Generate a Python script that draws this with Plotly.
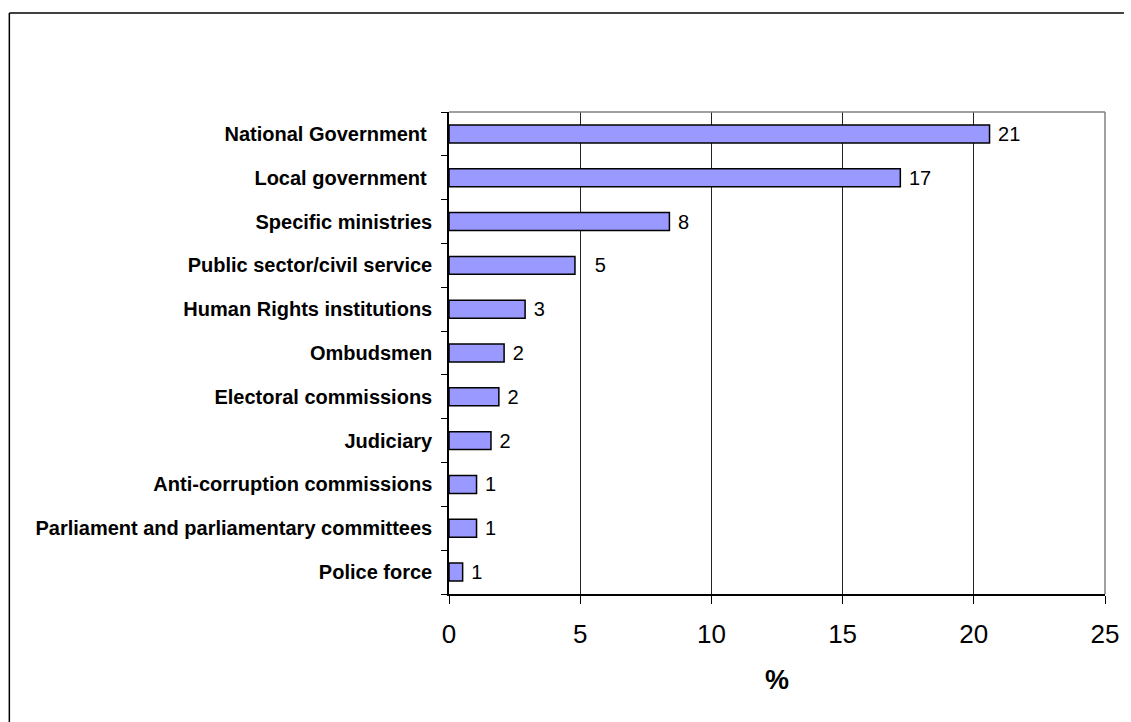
import plotly.graph_objects as go

# Institutions (top to bottom as displayed) and their shares in percent
categories = [
    "National Government\u00a0",
    "Local government\u00a0",
    "Specific ministries",
    "Public sector/civil service",
    "Human Rights institutions",
    "Ombudsmen",
    "Electoral commissions",
    "Judiciary",
    "Anti-corruption commissions",
    "Parliament and parliamentary committees",
    "Police force",
]
values = [20.6, 17.2, 8.4, 4.8, 2.9, 2.1, 1.9, 1.6, 1.05, 1.05, 0.52]
x_ticks = [0, 5, 10, 15, 20, 25]

# Value labels: rounded percentages, one sits a little further from its bar
label_templates = ["\u00a0%{x:.0f}"] * len(categories)
label_templates[3] = "\u00a0\u00a0\u00a0%{x:.0f}"

# Plot-area geometry in pixels (used to place the outer frame)
W, H = 1131, 722
L, R, T, B = 449, 24, 112, 128
pw, ph = W - L - R, H - T - B


def px_x(p):
    return (p - L) / pw


def px_y(p):
    return (H - B - p) / ph


fig = go.Figure(
    go.Bar(
        x=values[::-1],
        y=categories[::-1],
        orientation="h",
        width=0.41,
        marker=dict(color="#9999FF", line=dict(color="black", width=1.5)),
        texttemplate=label_templates[::-1],
        textposition="outside",
        constraintext="none",
        textfont=dict(family="Arial, Liberation Sans", size=20, color="black"),
        cliponaxis=False,
        hoverinfo="x+y",
    )
)

fig.update_layout(
    width=W,
    height=H,
    margin=dict(l=L, r=R, t=T, b=B, pad=0),
    paper_bgcolor="white",
    plot_bgcolor="white",
    showlegend=False,
    uniformtext=dict(mode=False),
    font=dict(family="Arial, Liberation Sans", color="black"),
    xaxis=dict(
        range=[0, 25],
        tickvals=x_ticks,
        ticks="outside",
        ticklen=8,
        tickcolor="black",
        tickfont=dict(size=26),
        ticklabelstandoff=8,
        showgrid=True,
        gridcolor="#222222",
        gridwidth=1,
        showline=True,
        linecolor="black",
        linewidth=1.5,
        mirror=False,
        zeroline=False,
        title=dict(text="<b>%</b>", font=dict(size=27), standoff=22),
    ),
    yaxis=dict(
        type="category",
        categoryorder="array",
        categoryarray=categories[::-1],
        ticks="outside",
        tickson="boundaries",
        ticklen=6,
        tickcolor="black",
        tickfont=dict(size=20, weight="bold"),
        ticklabelstandoff=11,
        showgrid=False,
        showline=True,
        linecolor="black",
        linewidth=1.5,
        zeroline=False,
    ),
)

# Gray frame on the top and right of the plot area
fig.add_shape(type="line", xref="paper", yref="paper", x0=0, x1=1, y0=1, y1=1,
              line=dict(color="#808080", width=1.5))
fig.add_shape(type="line", xref="paper", yref="paper", x0=1, x1=1, y0=0, y1=1,
              line=dict(color="#808080", width=1.5))

# Outer chart frame (top and left edges)
fig.add_shape(type="line", xref="paper", yref="paper",
              x0=px_x(8), x1=px_x(1126), y0=px_y(13), y1=px_y(13),
              line=dict(color="black", width=1.5))
fig.add_shape(type="line", xref="paper", yref="paper",
              x0=px_x(8), x1=px_x(8), y0=px_y(13), y1=px_y(730),
              line=dict(color="black", width=1.5))

fig.write_html("out.html")
